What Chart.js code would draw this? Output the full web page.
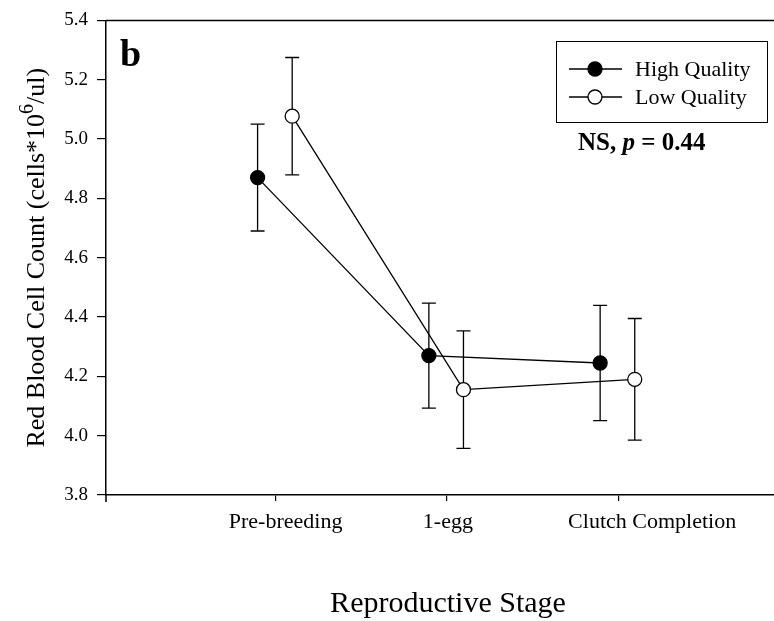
<!DOCTYPE html>
<html>
<head>
<meta charset="utf-8">
<script src="https://cdn.jsdelivr.net/npm/chart.js@4/dist/chart.umd.min.js"></script>
<style>
  html, body { margin: 0; padding: 0; background: #fff; }
  #wrap { width: 774px; height: 621px; position: relative; }
</style>
</head>
<body>
<div id="wrap"><canvas id="c" width="774" height="621"></canvas></div>
<script>
// Reproductive stages on the x axis
const stages = ['Pre-breeding', '1-egg', 'Clutch Completion'];

// Red blood cell count (cells*10^6/ul): means and standard errors
const highMean = [4.87, 4.27, 4.245];
const highSE   = [0.18, 0.177, 0.194];
const lowMean  = [5.077, 4.155, 4.19];
const lowSE    = [0.198, 0.198, 0.205];

// y axis tick values
const yTicks = [3.8, 4.0, 4.2, 4.4, 4.6, 4.8, 5.0, 5.2, 5.4];

const seriesNames = ['High Quality', 'Low Quality'];
const statText = ['NS, ', 'p', ' = 0.44'];

const SERIF = "'Liberation Serif', 'Times New Roman', serif";
const INK = '#000';
const SERIES_SHIFT = [-0.105, 0.097];   // side-by-side dodge of the two groups
const LABEL_SHIFT = [10, 1, 34];        // nudges for the stage names (px)

const series = [
  { mean: highMean, se: highSE, fill: '#000' },
  { mean: lowMean,  se: lowSE,  fill: '#fff' }
];

const datasets = series.map((s, k) => ({
  label: seriesNames[k],
  data: s.mean.map((v, i) => ({ x: i + 1 + SERIES_SHIFT[k], y: v })),
  errors: s.se,
  borderColor: INK,
  borderWidth: 1.3,
  pointRadius: 7,
  pointHoverRadius: 7,
  pointBackgroundColor: s.fill,
  pointBorderColor: INK,
  pointBorderWidth: 1.3,
  tension: 0,
  fill: false
}));

// vertical error bars with caps, drawn beneath the lines and markers
const errorBars = {
  id: 'errorBars',
  beforeDatasetsDraw(chart) {
    const { ctx, scales: { x, y } } = chart;
    ctx.save();
    ctx.strokeStyle = INK;
    ctx.lineWidth = 1.3;
    chart.data.datasets.forEach(ds => {
      ds.data.forEach((p, i) => {
        const px = x.getPixelForValue(p.x);
        const top = y.getPixelForValue(p.y + ds.errors[i]);
        const bot = y.getPixelForValue(p.y - ds.errors[i]);
        ctx.beginPath();
        ctx.moveTo(px, top); ctx.lineTo(px, bot);
        ctx.moveTo(px - 7, top); ctx.lineTo(px + 7, top);
        ctx.moveTo(px - 7, bot); ctx.lineTo(px + 7, bot);
        ctx.stroke();
      });
    });
    ctx.restore();
  }
};

// frame, axis titles, stage names, panel letter, legend and test result
const decorations = {
  id: 'decorations',
  afterDraw(chart) {
    const { ctx, chartArea: a, scales: { x } } = chart;
    ctx.save();
    ctx.strokeStyle = INK;
    ctx.fillStyle = INK;

    // top frame line and the short stub of the y axis below the origin
    ctx.lineWidth = 1.5;
    ctx.beginPath();
    ctx.moveTo(a.left, a.top); ctx.lineTo(a.right, a.top);
    ctx.moveTo(a.left, a.bottom); ctx.lineTo(a.left, a.bottom + 7);
    ctx.stroke();

    // stage names under the ticks
    ctx.font = `22px ${SERIF}`;
    ctx.textAlign = 'center';
    ctx.textBaseline = 'alphabetic';
    stages.forEach((s, i) => {
      ctx.fillText(s, x.getPixelForValue(i + 1) + LABEL_SHIFT[i], 528);
    });

    // x axis title
    ctx.font = `30px ${SERIF}`;
    ctx.fillText('Reproductive Stage', (a.left + a.right) / 2 + 8, 612);

    // y axis title with a raised exponent
    const parts = [
      { t: 'Red Blood Cell Count (cells*10', size: 26, rise: 0 },
      { t: '6', size: 20, rise: 11 },
      { t: '/ul)', size: 26, rise: 0 }
    ];
    let total = 0;
    parts.forEach(p => { ctx.font = `${p.size}px ${SERIF}`; p.w = ctx.measureText(p.t).width; total += p.w; });
    ctx.save();
    ctx.translate(44, (a.top + a.bottom) / 2);
    ctx.rotate(-Math.PI / 2);
    ctx.textAlign = 'left';
    let cx = -total / 2;
    parts.forEach(p => {
      ctx.font = `${p.size}px ${SERIF}`;
      ctx.fillText(p.t, cx, -p.rise);
      cx += p.w;
    });
    ctx.restore();

    // panel letter
    ctx.textAlign = 'left';
    ctx.font = `bold 38px ${SERIF}`;
    ctx.fillText('b', 120, 66);

    // legend box
    const lx = 556, ly = 41, lw = 211, lh = 81;
    ctx.lineWidth = 1;
    ctx.strokeRect(lx + 0.5, ly + 0.5, lw, lh);
    const rows = [69, 97];
    chart.data.datasets.forEach((ds, k) => {
      const ry = rows[k];
      ctx.lineWidth = 1.3;
      ctx.beginPath();
      ctx.moveTo(lx + 13, ry); ctx.lineTo(lx + 66, ry);
      ctx.stroke();
      ctx.beginPath();
      ctx.arc(lx + 39, ry, 7, 0, Math.PI * 2);
      ctx.fillStyle = ds.pointBackgroundColor;
      ctx.fill();
      ctx.stroke();
      ctx.fillStyle = INK;
      ctx.font = `22px ${SERIF}`;
      ctx.textBaseline = 'middle';
      ctx.fillText(ds.label, lx + 79, ry + 1);
    });

    // significance note
    ctx.textBaseline = 'alphabetic';
    let sx = 578;
    const styles = [`bold 25px ${SERIF}`, `italic bold 25px ${SERIF}`, `bold 25px ${SERIF}`];
    statText.forEach((t, i) => {
      ctx.font = styles[i];
      ctx.fillText(t, sx, 150);
      sx += ctx.measureText(t).width;
    });

    ctx.restore();
  }
};

new Chart(document.getElementById('c'), {
  type: 'line',
  data: { datasets },
  plugins: [errorBars, decorations],
  options: {
    responsive: false,
    animation: false,
    events: [],
    layout: { autoPadding: false, padding: { top: 18, left: 0, right: 0, bottom: 0 } },
    plugins: { legend: { display: false }, tooltip: { enabled: false } },
    scales: {
      x: {
        type: 'linear',
        min: 0.01,
        max: 3.91,
        afterBuildTicks: s => { s.ticks = stages.map((_, i) => ({ value: i + 1 })); },
        afterFit: s => { s.height = 126; },
        ticks: { display: false },
        grid: { drawOnChartArea: false, drawTicks: true, tickLength: 6, color: INK, lineWidth: 1.2 },
        border: { display: true, color: INK, width: 1.5 }
      },
      y: {
        min: 3.8,
        max: 5.4,
        afterBuildTicks: s => { s.ticks = yTicks.map(v => ({ value: v })); },
        afterFit: s => { s.width = 106; },
        ticks: {
          color: INK,
          padding: 9,
          font: { family: SERIF, size: 19 },
          callback: v => Number(v).toFixed(1)
        },
        grid: { drawOnChartArea: false, drawTicks: true, tickLength: 9, color: INK, lineWidth: 1.2 },
        border: { display: true, color: INK, width: 1.5 }
      }
    }
  }
});
</script>
</body>
</html>
